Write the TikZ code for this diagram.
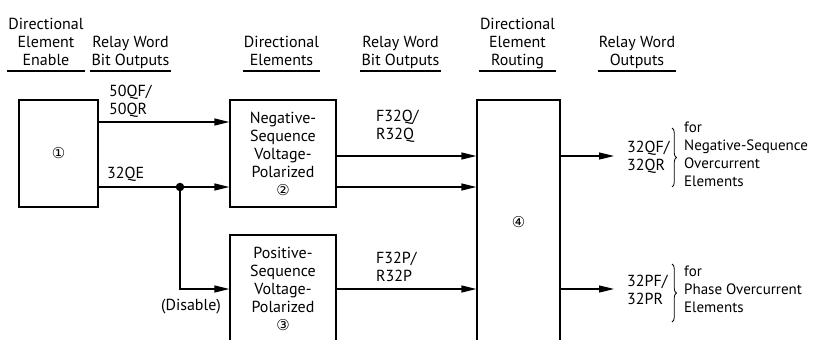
\documentclass[tikz,border=0pt]{standalone}
\usepackage{fontspec}
\setmainfont{PT Sans}
\newfontfamily\circfont{DejaVu Sans}
\usetikzlibrary{arrows.meta,positioning,decorations.pathreplacing}
\newcommand{\cnum}[1]{{\circfont\fontsize{15}{18}\selectfont #1}}

\begin{document}
\begin{tikzpicture}[x=1pt, y=-1pt,
  every node/.style={font=\fontsize{16}{18}\selectfont},
  colhead/.style={align=center, anchor=south, inner xsep=1pt, inner ysep=0pt},
  block/.style={draw, line width=1.2pt, align=center, inner sep=0pt},
  arrow/.style={-{Triangle[length=15pt, width=7pt]}, line width=1.2pt},
  wire/.style={line width=1.2pt},
  rule/.style={line width=1.2pt},
  sig/.style={align=left, inner sep=0pt},
  dot/.style={circle, fill, inner sep=0pt, minimum size=8.5pt},
  bracket/.style={decorate, decoration={brace, amplitude=4.5pt}, line width=0.8pt},
]
  \useasboundingbox (0,0) rectangle (814,340);

  % Column headings
  \node[colhead] (hena) at (46,71) {Directional\\Element\\Enable\strut};
  \node[colhead] (hbit1) at (130.5,71) {Relay Word\\Bit Outputs\strut};
  \node[colhead] (hdir) at (281.5,71) {Directional\\Elements\strut};
  \node[colhead] (hbit2) at (400.5,71) {Relay Word\\Bit Outputs\strut};
  \node[colhead] (hrout) at (517.5,71) {Directional\\Element\\Routing\strut};
  \node[colhead] (hout) at (637,71) {Relay Word\\Outputs\strut};
  \draw[rule] (hena.south west) -- (hena.south east);
  \draw[rule] (hbit1.south west) -- (hbit1.south east);
  \draw[rule] (hdir.south west) -- (hdir.south east);
  \draw[rule] (hbit2.south west) -- (hbit2.south east);
  \draw[rule] (hrout.south west) -- (hrout.south east);
  \draw[rule] (hout.south west) -- (hout.south east);

  % Blocks
  \node[block, minimum width=79pt, minimum height=107pt] (enable) at (58.5,153.5) {\cnum{①}};
  \node[block, minimum width=106pt, minimum height=107pt] (negseq) at (283,153.5)
    {Negative-\\Sequence\\Voltage-\\Polarized\\\cnum{②}};
  \node[block, minimum width=106pt, minimum height=108pt] (posseq) at (283,289)
    {Positive-\\Sequence\\Voltage-\\Polarized\\\cnum{③}};
  \node[block, minimum width=83pt, minimum height=244pt] (routing) at (518.5,222) {\cnum{④}};
  \node[dot] (split) at (180,187) {};
  \coordinate (qout) at (614,156);
  \coordinate (pout) at (614,289);

  % Connections
  \draw[arrow] (enable.east |- 0,122) -- (negseq.west |- 0,122);
  \draw[wire] (enable.east |- split) -- (split);
  \draw[arrow] (split) -- (negseq.west |- split);
  \draw[arrow] (split) |- (posseq.west);
  \draw[arrow] (negseq.east |- 0,156) -- (routing.west |- 0,156);
  \draw[arrow] (negseq.east |- split) -- (routing.west |- split);
  \draw[arrow] (posseq.east) -- (routing.west |- posseq.east);
  \draw[arrow] (routing.east |- qout) -- (qout);
  \draw[arrow] (routing.east |- pout) -- (pout);

  % Signal labels
  \node[sig, anchor=south west] (l50q) at (109,118) {50QF/\\50QR};
  \node[sig, anchor=south west] (l32qe) at (107,182) {32QE};
  \node[sig] (ldis) at (191,307) {(Disable)};
  \node[sig, anchor=south west] (lf32q) at (376,143) {F32Q/\\R32Q};
  \node[sig, anchor=south west] (lf32p) at (376,282) {F32P/\\R32P};

  % Outputs
  \node[sig, anchor=west] (o32q) at (627,157) {32QF/\\32QR};
  \draw[bracket] (672,128) -- (672,187);
  \node[sig, anchor=north west, font=\fontsize{15}{18}\selectfont] (nqtext) at (684,122)
    {for\\Negative-Sequence\\Overcurrent\\Elements};
  \node[sig, anchor=west] (o32p) at (627,290) {32PF/\\32PR};
  \draw[bracket] (672,264) -- (672,322);
  \node[sig, anchor=north west, font=\fontsize{15}{18}\selectfont] (nptext) at (684,266)
    {for\\Phase Overcurrent\\Elements};
\end{tikzpicture}
\end{document}
